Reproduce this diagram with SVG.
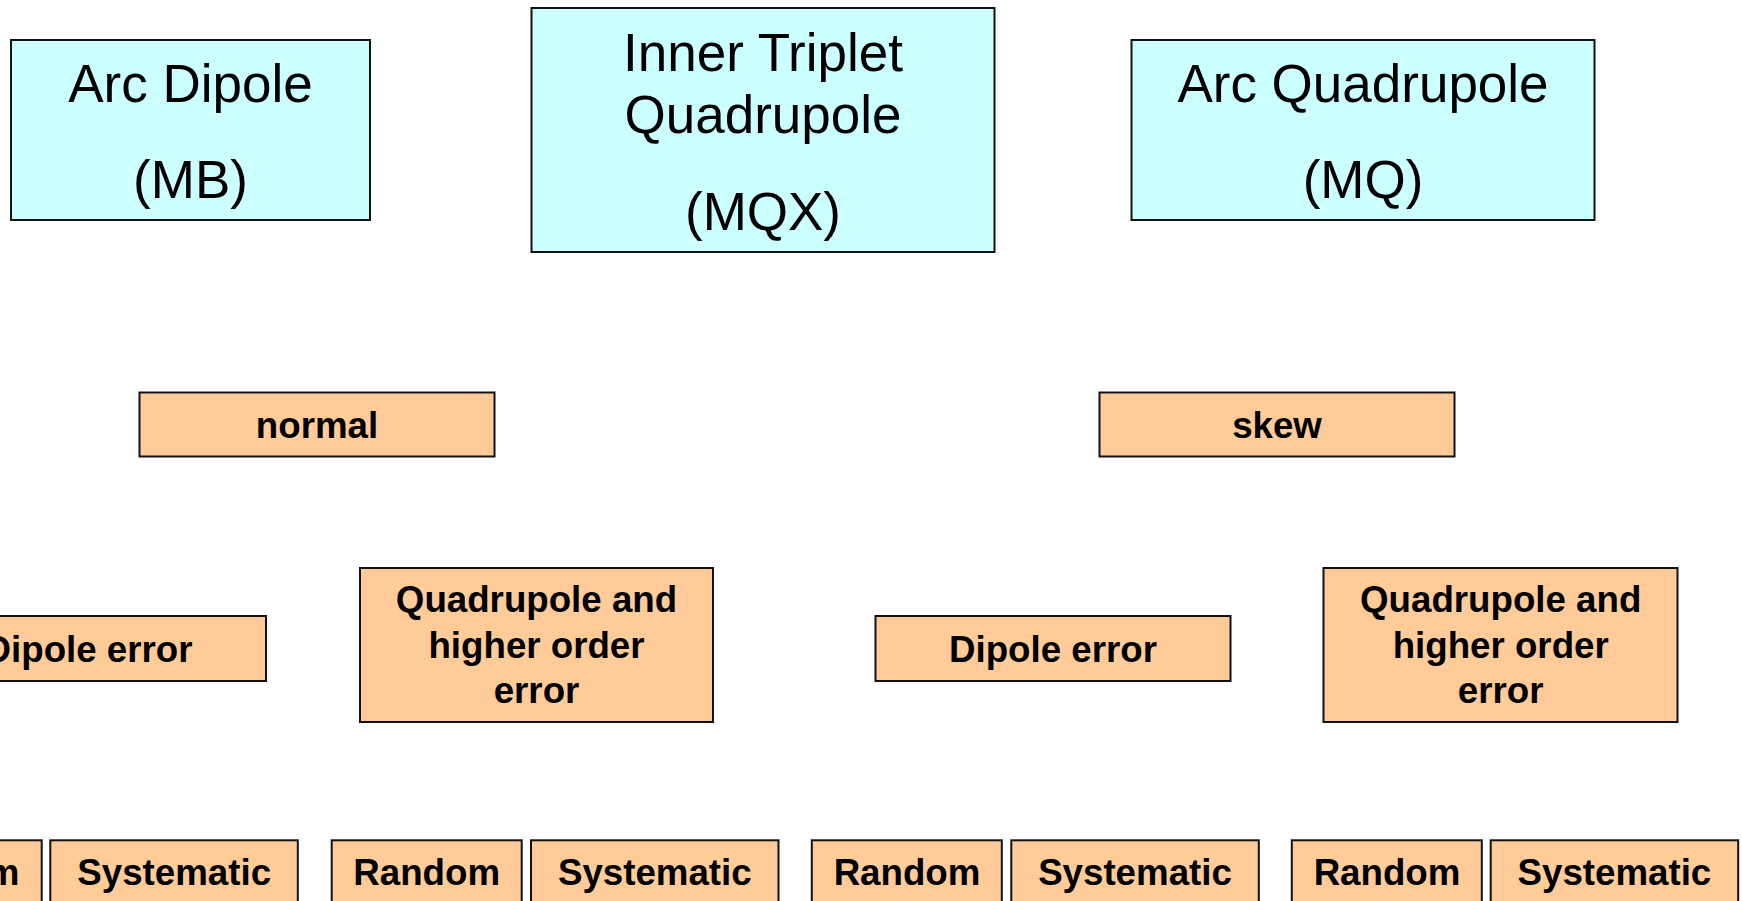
<svg xmlns="http://www.w3.org/2000/svg" width="1742" height="901" viewBox="0 0 1742 901">
  <style>
    .magnet { fill: #CCFFFF; stroke: #111111; stroke-width: 2; }
    .cat { fill: #FFCC99; stroke: #111111; stroke-width: 2; }
    .big { font-family: "Liberation Sans", Arial, sans-serif; font-size: 53px; fill: #000000; text-anchor: middle; }
    .lbl { font-family: "Liberation Sans", Arial, sans-serif; font-size: 36.7px; font-weight: bold; fill: #000000; text-anchor: middle; }
  </style>
  <rect x="0" y="0" width="1742" height="901" fill="#FFFFFF"/>

  <!-- magnet types -->
  <g id="node-mb">
    <rect class="magnet" x="11" y="40" width="359" height="180"/>
    <text class="big" x="190.5" y="101.7">Arc Dipole</text>
    <text class="big" x="190.5" y="198.3">(MB)</text>
  </g>
  <g id="node-mqx">
    <rect class="magnet" x="531.5" y="8" width="463" height="244"/>
    <text class="big" x="763" y="70.7">Inner Triplet</text>
    <text class="big" x="763" y="133.3">Quadrupole</text>
    <text class="big" x="763" y="230">(MQX)</text>
  </g>
  <g id="node-mq">
    <rect class="magnet" x="1131.5" y="40" width="463" height="180"/>
    <text class="big" x="1363" y="101.7">Arc Quadrupole</text>
    <text class="big" x="1363" y="198.3">(MQ)</text>
  </g>

  <!-- field components -->
  <g id="node-normal">
    <rect class="cat" x="139.5" y="392.5" width="355" height="64"/>
    <text class="lbl" x="317" y="438">normal</text>
  </g>
  <g id="node-skew">
    <rect class="cat" x="1099.5" y="392.5" width="355" height="64"/>
    <text class="lbl" x="1277" y="438">skew</text>
  </g>

  <!-- error orders -->
  <g id="node-dipole-left">
    <rect class="cat" x="-89" y="616" width="355" height="65"/>
    <text class="lbl" x="88.5" y="661.7">Dipole error</text>
  </g>
  <g id="node-quad-left">
    <rect class="cat" x="360" y="568" width="353" height="154"/>
    <text class="lbl" x="536.5" y="611.7">Quadrupole and</text>
    <text class="lbl" x="536.5" y="658.3">higher order</text>
    <text class="lbl" x="536.5" y="703.3">error</text>
  </g>
  <g id="node-dipole-right">
    <rect class="cat" x="875.5" y="616" width="355" height="65"/>
    <text class="lbl" x="1053" y="661.7">Dipole error</text>
  </g>
  <g id="node-quad-right">
    <rect class="cat" x="1323.5" y="568" width="354" height="154"/>
    <text class="lbl" x="1500.7" y="611.7">Quadrupole and</text>
    <text class="lbl" x="1500.7" y="658.3">higher order</text>
    <text class="lbl" x="1500.7" y="703.3">error</text>
  </g>

  <!-- random / systematic split -->
  <g id="node-random-1">
    <rect class="cat" x="-149.3" y="840.3" width="191" height="80"/>
    <text class="lbl" x="-54" y="885">Random</text>
  </g>
  <g id="node-systematic-1">
    <rect class="cat" x="50.3" y="840.3" width="247.5" height="80"/>
    <text class="lbl" x="174.2" y="885">Systematic</text>
  </g>
  <g id="node-random-2">
    <rect class="cat" x="331.7" y="840.3" width="190" height="80"/>
    <text class="lbl" x="426.7" y="885">Random</text>
  </g>
  <g id="node-systematic-2">
    <rect class="cat" x="531" y="840.3" width="247.5" height="80"/>
    <text class="lbl" x="654.8" y="885">Systematic</text>
  </g>
  <g id="node-random-3">
    <rect class="cat" x="811.8" y="840.3" width="190" height="80"/>
    <text class="lbl" x="907" y="885">Random</text>
  </g>
  <g id="node-systematic-3">
    <rect class="cat" x="1011.3" y="840.3" width="247.5" height="80"/>
    <text class="lbl" x="1135" y="885">Systematic</text>
  </g>
  <g id="node-random-4">
    <rect class="cat" x="1291.8" y="840.3" width="190" height="80"/>
    <text class="lbl" x="1387" y="885">Random</text>
  </g>
  <g id="node-systematic-4">
    <rect class="cat" x="1490.7" y="840.3" width="247.5" height="80"/>
    <text class="lbl" x="1614.4" y="885">Systematic</text>
  </g>

  <g id="connectors"></g>
</svg>
